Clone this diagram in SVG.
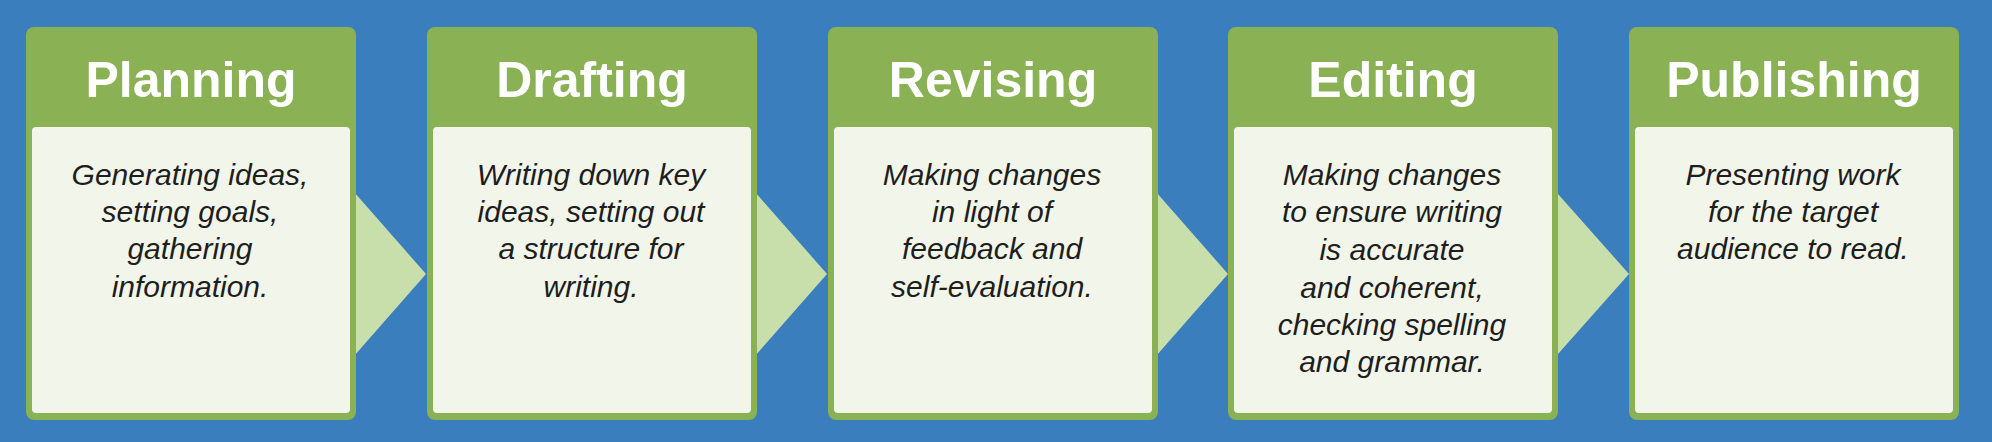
<svg xmlns="http://www.w3.org/2000/svg" width="1992" height="442" viewBox="0 0 1992 442">
<style>
.outer{fill:#8ab153}
.inner{fill:#f2f6ea}
.arrow{fill:#c9dfab}
.title{font-family:"Liberation Sans",Arial,sans-serif;font-weight:bold;font-size:50px;fill:#ffffff;text-anchor:middle}
.body{font-family:"Liberation Sans",Arial,sans-serif;font-style:italic;font-size:30px;fill:#1e1e1e;text-anchor:middle}
</style>
<rect x="0" y="0" width="1992" height="442" fill="#3a7ebe"/>
<g id="connectors">
<polygon class="arrow" points="340,176 426,274 340,372"/>
<polygon class="arrow" points="741,176 827,274 741,372"/>
<polygon class="arrow" points="1142,176 1228,274 1142,372"/>
<polygon class="arrow" points="1542,176 1629,274 1542,372"/>
</g>
<g id="planning">
<rect class="outer" x="26" y="27" width="330" height="393" rx="8"/>
<rect class="inner" x="32" y="127" width="318" height="286" rx="4"/>
<text class="title" x="191" y="97">Planning</text>
<text class="body" x="190"><tspan x="190" y="185">Generating ideas,</tspan><tspan x="190" y="222">setting goals,</tspan><tspan x="190" y="259">gathering</tspan><tspan x="190" y="297">information.</tspan></text>
</g>
<g id="drafting">
<rect class="outer" x="427" y="27" width="330" height="393" rx="8"/>
<rect class="inner" x="433" y="127" width="318" height="286" rx="4"/>
<text class="title" x="592" y="97">Drafting</text>
<text class="body" x="591"><tspan x="591" y="185">Writing down key</tspan><tspan x="591" y="222">ideas, setting out</tspan><tspan x="591" y="259">a structure for</tspan><tspan x="591" y="297">writing.</tspan></text>
</g>
<g id="revising">
<rect class="outer" x="828" y="27" width="330" height="393" rx="8"/>
<rect class="inner" x="834" y="127" width="318" height="286" rx="4"/>
<text class="title" x="993" y="97">Revising</text>
<text class="body" x="992"><tspan x="992" y="185">Making changes</tspan><tspan x="992" y="222">in light of</tspan><tspan x="992" y="259">feedback and</tspan><tspan x="992" y="297">self-evaluation.</tspan></text>
</g>
<g id="editing">
<rect class="outer" x="1228" y="27" width="330" height="393" rx="8"/>
<rect class="inner" x="1234" y="127" width="318" height="286" rx="4"/>
<text class="title" x="1393" y="97">Editing</text>
<text class="body" x="1392"><tspan x="1392" y="185">Making changes</tspan><tspan x="1392" y="222">to ensure writing</tspan><tspan x="1392" y="260">is accurate</tspan><tspan x="1392" y="298">and coherent,</tspan><tspan x="1392" y="335">checking spelling</tspan><tspan x="1392" y="372">and grammar.</tspan></text>
</g>
<g id="publishing">
<rect class="outer" x="1629" y="27" width="330" height="393" rx="8"/>
<rect class="inner" x="1635" y="127" width="318" height="286" rx="4"/>
<text class="title" x="1794" y="97">Publishing</text>
<text class="body" x="1793"><tspan x="1793" y="185">Presenting work</tspan><tspan x="1793" y="222">for the target</tspan><tspan x="1793" y="259">audience to read.</tspan></text>
</g>
</svg>
